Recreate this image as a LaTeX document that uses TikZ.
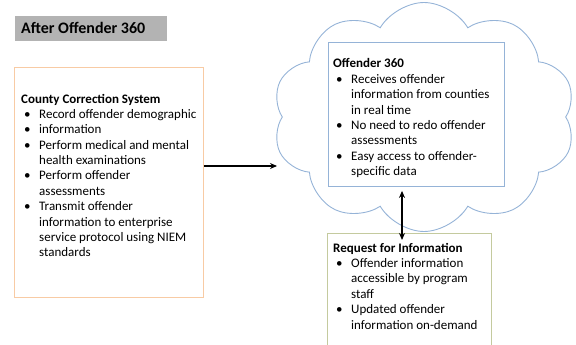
\documentclass[tikz,border=0pt]{standalone}
\usepackage{fontspec}
\setmainfont{Carlito}
\usetikzlibrary{shapes.symbols,arrows.meta}
\definecolor{titlegray}{HTML}{B3B3B3}
\definecolor{countyorange}{HTML}{F8CBA4}
\definecolor{cloudblue}{HTML}{95B3D7}
\definecolor{reqgreen}{HTML}{C4CA9E}
\newcommand{\bhead}[1]{\multicolumn{2}{@{}l@{}}{\textbf{#1}}}
\begin{document}
\begin{tikzpicture}
  [x=1pt,y=-1pt,
   box/.style={rectangle,line width=0.9pt,inner sep=0,anchor=north west},
   txt/.style={anchor=base west,inner sep=0,font=\fontsize{13}{15.4}\selectfont},
   arr/.style={line width=1.2pt,>={Stealth[length=7pt,width=6pt]}}]
  \clip (0,0) rectangle (576,345);
  \node[box,fill=titlegray,minimum width=152,minimum height=25] (title) at (15,16) {};
  \node[anchor=base west,inner sep=0,font=\fontsize{16}{18}\selectfont\bfseries] (titletxt) at (21,34) {After Offender 360};

  \node[box,draw=countyorange,minimum width=189,minimum height=230] (county) at (14,67) {};
  \node[txt] (countytxt) at (21,103) {\begin{tabular}[t]{@{\hspace{3pt}}p{15pt}@{}l@{}}
    \bhead{County Correction System}\\
    \textbullet & Record offender demographic\\
    \textbullet & information\\
    \textbullet & Perform medical and mental\\
                & health examinations\\
    \textbullet & Perform offender\\
                & assessments\\
    \textbullet & Transmit offender\\
                & information to enterprise\\
                & service protocol using NIEM\\
                & standards
    \end{tabular}};

  \node[cloud,draw=cloudblue,line width=0.9pt,cloud puffs=10,cloud puff arc=120,aspect=1.3,
        minimum width=303,minimum height=229,inner sep=0] (cloud) at (424,117) {};
  \node[box,draw=cloudblue,fill=white,minimum width=176,minimum height=144] (off) at (328,42) {};
  \node[txt] (offtxt) at (333,68) {\begin{tabular}[t]{@{\hspace{3pt}}p{15pt}@{}l@{}}
    \bhead{Offender 360}\\
    \textbullet & Receives offender\\
                & information from counties\\
                & in real time\\
    \textbullet & No need to redo offender\\
                & assessments\\
    \textbullet & Easy access to offender-\\
                & specific data
    \end{tabular}};

  \node[box,draw=reqgreen,minimum width=164,minimum height=130] (req) at (327,233) {};
  \node[txt] (reqtxt) at (333,252) {\begin{tabular}[t]{@{\hspace{3pt}}p{15pt}@{}l@{}}
    \bhead{Request for Information}\\
    \textbullet & Offender information\\
                & accessible by program\\
                & staff\\
    \textbullet & Updated offender\\
                & information on-demand
    \end{tabular}};

  \coordinate (cin) at (277,166);
  \coordinate (link) at (402,0);
  \path[->,arr] (county.east |- cin) edge (cin);
  \path[<->,arr] ([yshift=-4pt]off.south -| link) edge ([yshift=-7pt]req.north -| link);
\end{tikzpicture}
\end{document}
